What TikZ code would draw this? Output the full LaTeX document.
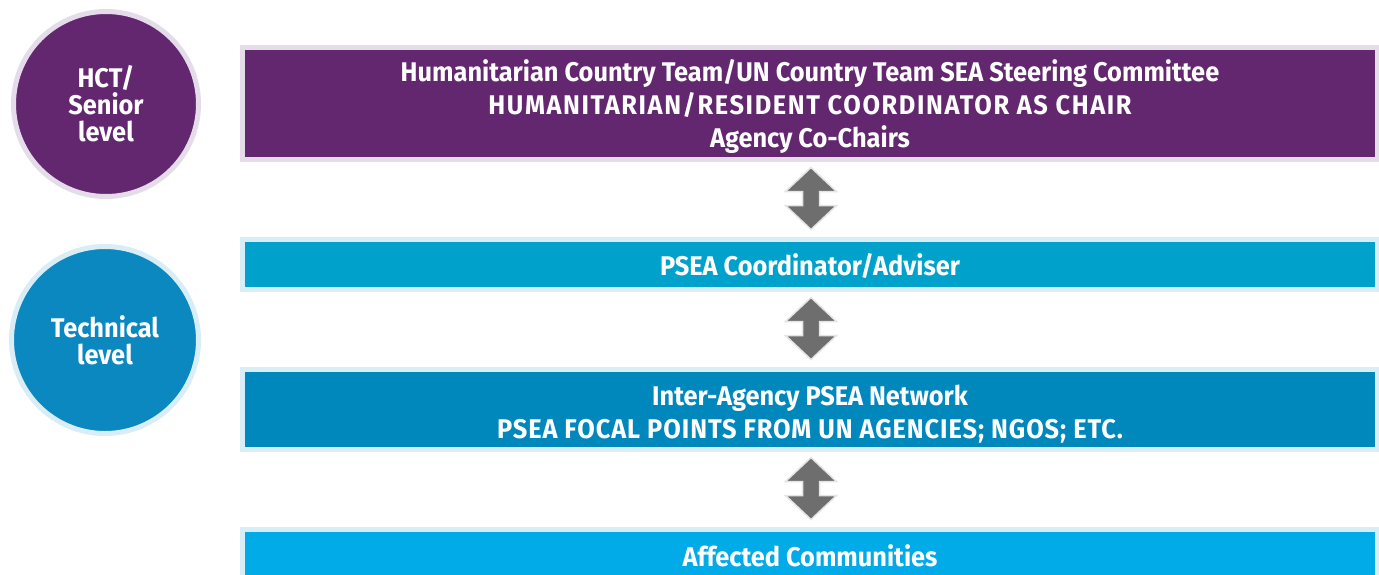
\documentclass[tikz,border=0pt]{standalone}
\usepackage{fontspec}
\newfontfamily\lblfont[FakeStretch=0.94]{Fira Sans}
\usetikzlibrary{calc}
\definecolor{hctpurple}{HTML}{632770}
\definecolor{hctborder}{HTML}{E5DCEA}
\definecolor{coordblue}{HTML}{00A1CB}
\definecolor{netblue}{HTML}{0088BD}
\definecolor{commblue}{HTML}{00ABE8}
\definecolor{techblue}{HTML}{0A88BF}
\definecolor{blueborder}{HTML}{D8EDF6}
\definecolor{arrowgray}{HTML}{6E6E6E}
\definecolor{arrowhalo}{HTML}{E4E4E4}
\newcommand{\capsA}{\addfontfeature{LetterSpace=6}}
\newcommand{\capsB}{\addfontfeature{LetterSpace=3.5}}
\tikzset{
  lbl/.style={text=white, font=\lblfont\bfseries\fontsize{27}{27}\selectfont, align=center},
  bartext/.style={lbl, inner sep=0pt, font=\lblfont\bfseries\fontsize{27}{33}\selectfont},
  levelcircle/.style={lbl, circle, line width=5pt, inner sep=0pt},
  bar/.style={rectangle, line width=5pt, inner sep=0pt, minimum width=1135pt},
  fatarrow/.style={fill=arrowgray, draw=arrowhalo, line width=1.5pt, line join=miter},
}
\newcommand{\biarrow}[2]{%
  \path let \p1=(#1.south), \p2=(#2.north) in
    [fatarrow] (\x1+1pt,\y1-5.5pt) -- ++(25.5pt,-24pt) -- ++(-17pt,0pt)
      -- (\x1+9.5pt,\y2+31.5pt) -- ++(17pt,0pt) -- (\x1+1pt,\y2+7.5pt)
      -- ++(-25.5pt,24pt) -- ++(17pt,0pt) -- (\x1-7.5pt,\y1-29.5pt)
      -- ++(-17pt,0pt) -- cycle;}
\begin{document}
\begin{tikzpicture}[x=1pt,y=-1pt]
\useasboundingbox (0,0) rectangle (1379,574);
% level circles
\node[levelcircle, fill=hctpurple, draw=hctborder, minimum size=185pt] (c1) at (106,104) {HCT/\\Senior\\level};
\node[levelcircle, fill=techblue, draw=blueborder, minimum size=187pt] (c2) at (105,340) {Technical\\level};
% bars
\node[bar, fill=hctpurple, draw=hctborder, minimum height=112pt] (b1) at (810,103.5) {};
\node[bar, fill=coordblue, draw=blueborder, minimum height=50pt] (b2) at (810,264.5) {};
\node[bar, fill=netblue, draw=blueborder, minimum height=80pt] (b3) at (810,409.5) {};
\node[bar, fill=commblue, draw=blueborder, minimum height=53pt] (b4) at (810,556) {};
% bar texts
\node[bartext] (t1) at ($(b1.center)+(0,3)$)
  {Humanitarian Country Team/UN Country Team SEA Steering Committee\\{\capsA HUMANITARIAN/RESIDENT COORDINATOR AS CHAIR}\\Agency Co-Chairs};
\node[bartext] (t2) at ($(b2.center)+(0,1)$) {PSEA Coordinator/Adviser};
\node[bartext] (t3) at ($(b3.center)+(0,5)$)
  {Inter-Agency PSEA Network\\{\capsB PSEA FOCAL POINTS FROM UN AGENCIES; NGOS; ETC.}};
\node[bartext] (t4) at (b4.center) {Affected Communities};
% arrows
\biarrow{b1}{b2}
\biarrow{b2}{b3}
\biarrow{b3}{b4}
\end{tikzpicture}
\end{document}
